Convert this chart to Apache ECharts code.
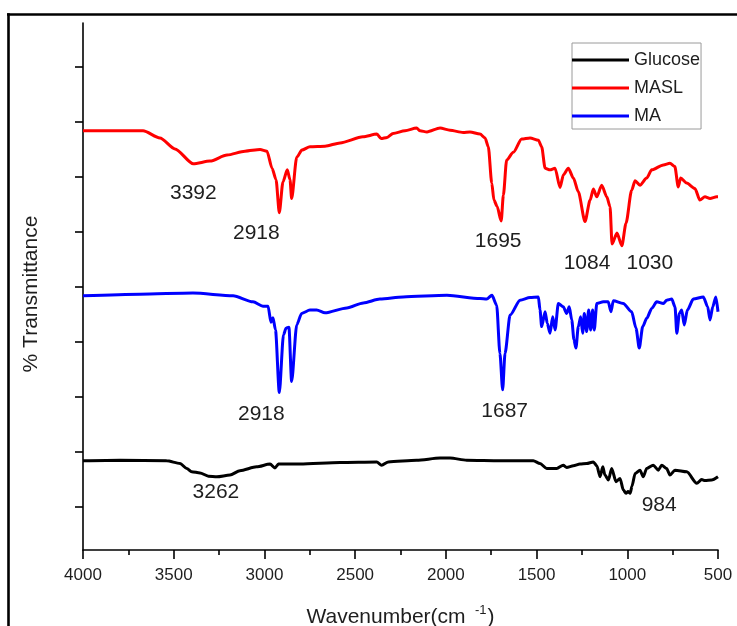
<!DOCTYPE html>
<html>
<head>
<meta charset="utf-8">
<title>FTIR spectra</title>
<script src="https://cdn.jsdelivr.net/npm/echarts@6/dist/echarts.min.js"></script>
<style>
  html, body { margin: 0; padding: 0; background: #ffffff; }
  #chart { width: 737px; height: 626px; }
</style>
</head>
<body>
<div id="chart"></div>
<script>
// Offset transmittance ticks (arbitrary units, labels hidden)
const yTicks = [10, 20, 30, 40, 50, 60, 70, 80, 90];

// [wavenumber, transmittance] for each spectrum
const masl = [
  [4000, 78.4], [3669, 78.4], [3576, 77.1], [3493, 75.1], [3392, 72.4], [3300, 72.9],
  [3206, 74.0], [3107, 74.7], [3024, 75.0], [2986, 74.7], [2958, 71.6], [2936, 69.5],
  [2918, 63.5], [2898, 69.1], [2874, 71.3], [2859, 69.5], [2850, 66.1], [2822, 73.6],
  [2793, 74.9], [2749, 75.5], [2666, 75.6], [2583, 76.2], [2457, 77.3], [2380, 77.8],
  [2357, 77.0], [2324, 77.2], [2291, 77.9], [2225, 78.4], [2161, 78.9], [2142, 78.4],
  [2104, 78.2], [2032, 78.9], [1977, 78.5], [1905, 78.1], [1867, 78.2], [1812, 77.8],
  [1784, 77.1], [1766, 75.5], [1747, 68.9], [1735, 65.8], [1718, 64.7], [1695, 62.0],
  [1683, 66.7], [1665, 73.1], [1628, 74.5], [1582, 76.9], [1536, 77.1], [1490, 76.7],
  [1472, 75.5], [1453, 71.6], [1426, 71.3], [1398, 71.6], [1371, 68.1], [1352, 70.4],
  [1325, 71.6], [1297, 69.8], [1270, 67.3], [1233, 61.9], [1205, 65.8], [1187, 67.8],
  [1168, 66.4], [1141, 68.5], [1113, 66.4], [1095, 64.6], [1084, 57.8], [1057, 59.8],
  [1030, 57.5], [1007, 61.6], [976, 67.6], [957, 69.3], [930, 68.5], [893, 69.8],
  [865, 71.3], [801, 72.2], [765, 72.5], [738, 71.9], [719, 68.2], [706, 69.8],
  [673, 68.9], [627, 67.9], [600, 65.8], [572, 66.4], [544, 66.1], [507, 66.4], [500, 66.4]
];

const ma = [
  [4000, 48.4], [3686, 48.7], [3394, 48.9], [3173, 48.4], [3063, 47.3], [3008, 46.5],
  [2980, 46.5], [2964, 43.6], [2953, 44.4], [2939, 42.2], [2918, 30.8], [2895, 41.3],
  [2881, 42.5], [2865, 42.7], [2850, 32.8], [2822, 43.1], [2795, 45.2], [2749, 45.8],
  [2712, 45.8], [2666, 45.3], [2546, 46.2], [2455, 47.1], [2363, 47.8], [2236, 48.2],
  [1994, 48.5], [1812, 47.9], [1775, 47.8], [1746, 48.5], [1720, 46.7], [1702, 37.9],
  [1687, 31.3], [1674, 37.9], [1646, 44.9], [1591, 47.6], [1536, 48.1], [1490, 48.2],
  [1481, 45.8], [1472, 42.8], [1453, 45.5], [1441, 43.4], [1426, 41.6], [1411, 44.6],
  [1398, 42.2], [1380, 47.0], [1353, 46.4], [1334, 45.2], [1320, 46.4], [1306, 44.0],
  [1294, 40.4], [1283, 38.9], [1270, 42.8], [1257, 44.6], [1246, 41.6], [1237, 45.2],
  [1224, 41.9], [1213, 45.8], [1202, 42.2], [1191, 45.8], [1182, 42.2], [1168, 47.0],
  [1132, 47.3], [1105, 47.3], [1090, 45.5], [1077, 47.5], [1022, 47.0], [976, 45.5],
  [952, 42.5], [934, 38.9], [915, 42.8], [893, 44.3], [865, 46.1], [838, 47.3],
  [801, 47.0], [783, 47.6], [755, 47.8], [737, 46.4], [727, 41.6], [713, 45.2],
  [700, 45.8], [686, 43.1], [669, 45.8], [636, 47.8], [581, 48.2], [557, 46.4],
  [544, 44.0], [529, 46.4], [512, 48.2], [500, 45.5]
];

const glucose = [
  [4000, 18.4], [3796, 18.5], [3539, 18.4], [3465, 17.9], [3428, 17.0], [3401, 16.4],
  [3355, 16.2], [3309, 15.6], [3262, 15.5], [3190, 15.8], [3135, 16.6], [3043, 17.3],
  [2969, 17.8], [2942, 17.1], [2923, 17.8], [2804, 17.8], [2583, 18.1], [2381, 18.2],
  [2354, 17.6], [2317, 18.2], [2161, 18.5], [2032, 18.9], [1977, 18.9], [1885, 18.5],
  [1701, 18.4], [1518, 18.4], [1481, 17.9], [1444, 17.0], [1389, 17.0], [1353, 17.6],
  [1334, 17.2], [1297, 17.5], [1261, 17.8], [1224, 17.9], [1187, 18.2], [1168, 17.5],
  [1150, 15.5], [1135, 17.3], [1123, 15.8], [1104, 14.9], [1086, 17.0], [1062, 14.6],
  [1040, 15.2], [1022, 13.1], [1007, 12.5], [996, 12.8], [984, 12.5], [974, 13.8],
  [957, 16.1], [930, 16.7], [912, 15.5], [893, 17.0], [857, 17.6], [829, 16.7],
  [810, 17.6], [783, 17.0], [765, 15.8], [737, 16.7], [672, 16.4], [617, 14.3],
  [590, 15.0], [572, 14.8], [535, 14.9], [500, 15.5]
];

// Labelled band positions (cm-1)
const maslPeaks = [3392, 2918, 1695, 1084, 1030];
const maPeaks = [2918, 1687];
const glucosePeaks = [3262, 984];

// Pixel offsets of each band label from its band minimum
const maslLabelOffsets = [[0, 29], [-23, 20], [-3, 20], [-25, 19], [28, 17]];
const maLabelOffsets = [[-18, 22], [2, 21]];
const glucoseLabelOffsets = [[-1, 15], [29, 12]];

const FONT = 'Liberation Sans, Arial, Helvetica, sans-serif';
const TEXT = '#1e1e1e';

function peakMarks(data, peaks, offsets) {
  return {
    symbol: 'rect',
    symbolSize: 1,
    itemStyle: { color: 'rgba(0,0,0,0)' },
    silent: true,
    animation: false,
    label: {
      show: true,
      position: 'inside',
      color: TEXT,
      fontFamily: FONT,
      fontSize: 21,
      formatter: p => p.name
    },
    data: peaks.map((w, i) => {
      const pt = data.find(d => d[0] === w);
      return {
        name: String(w),
        coord: [w, pt[1]],
        label: { offset: offsets[i] }
      };
    })
  };
}

function spectrum(name, data, color, peaks, offsets) {
  return {
    name: name,
    type: 'line',
    data: data,
    showSymbol: false,
    symbol: 'none',
    smooth: 0.25,
    smoothMonotone: 'x',
    lineStyle: { color: color, width: 3 },
    itemStyle: { color: color },
    animation: false,
    markPoint: peakMarks(data, peaks, offsets)
  };
}

const chart = echarts.init(document.getElementById('chart'), null, { renderer: 'canvas' });

chart.setOption({
  backgroundColor: '#ffffff',
  animation: false,
  grid: { left: 83, right: 19, top: 23, bottom: 76, containLabel: false, outerBoundsMode: 'none' },
  legend: {
    orient: 'vertical',
    left: 572,
    top: 43,
    data: ['Glucose', 'MASL', 'MA'],
    icon: 'rect',
    itemWidth: 57,
    itemHeight: 3,
    itemGap: 8,
    padding: [7, 1, 3, 0],
    borderColor: '#9a9a9a',
    borderWidth: 1,
    textStyle: { fontFamily: FONT, fontSize: 18, color: TEXT, lineHeight: 20 }
  },
  xAxis: {
    type: 'value',
    inverse: true,
    min: 500,
    max: 4000,
    interval: 500,
    splitLine: { show: false },
    axisLine: { onZero: false, lineStyle: { color: '#000', width: 1.6 } },
    axisTick: { length: 9, lineStyle: { color: '#000', width: 1.6 } },
    minorTick: { show: true, splitNumber: 2, length: 5, lineStyle: { color: '#000', width: 1.6 } },
    axisLabel: {
      margin: 17,
      fontFamily: FONT,
      fontSize: 17,
      color: TEXT,
      formatter: v => String(v)
    },
    name: '{t|Wavenumber(cm }{s| -1}{t|)}',
    nameLocation: 'middle',
    nameGap: 54,
    nameTextStyle: {
      rich: {
        t: { fontFamily: FONT, fontSize: 21, color: TEXT, lineHeight: 26 },
        s: { fontFamily: FONT, fontSize: 13, color: TEXT, lineHeight: 26, padding: [0, 1, 14, 0] }
      }
    }
  },
  yAxis: {
    type: 'value',
    min: 2.18,
    max: 98,
    splitLine: { show: false },
    axisLine: { lineStyle: { color: '#000', width: 1.6 } },
    axisTick: { length: 8, lineStyle: { color: '#000', width: 1.6 }, customValues: yTicks },
    axisLabel: { show: false }
  },
  graphic: [
    { type: 'line', shape: { x1: 7, y1: 14.5, x2: 737, y2: 14.5 }, style: { stroke: '#000', lineWidth: 2.6 } },
    { type: 'line', shape: { x1: 8.5, y1: 13.2, x2: 8.5, y2: 626 }, style: { stroke: '#000', lineWidth: 2.6 } },
    {
      type: 'text',
      x: 31,
      y: 294,
      rotation: Math.PI / 2,
      style: {
        text: '% Transmittance',
        fontFamily: FONT,
        fontSize: 21,
        fill: TEXT,
        align: 'center',
        verticalAlign: 'middle'
      }
    }
  ],
  series: [
    spectrum('Glucose', glucose, '#000000', glucosePeaks, glucoseLabelOffsets),
    spectrum('MASL', masl, '#ff0000', maslPeaks, maslLabelOffsets),
    spectrum('MA', ma, '#0000ff', maPeaks, maLabelOffsets)
  ]
});
</script>
</body>
</html>
